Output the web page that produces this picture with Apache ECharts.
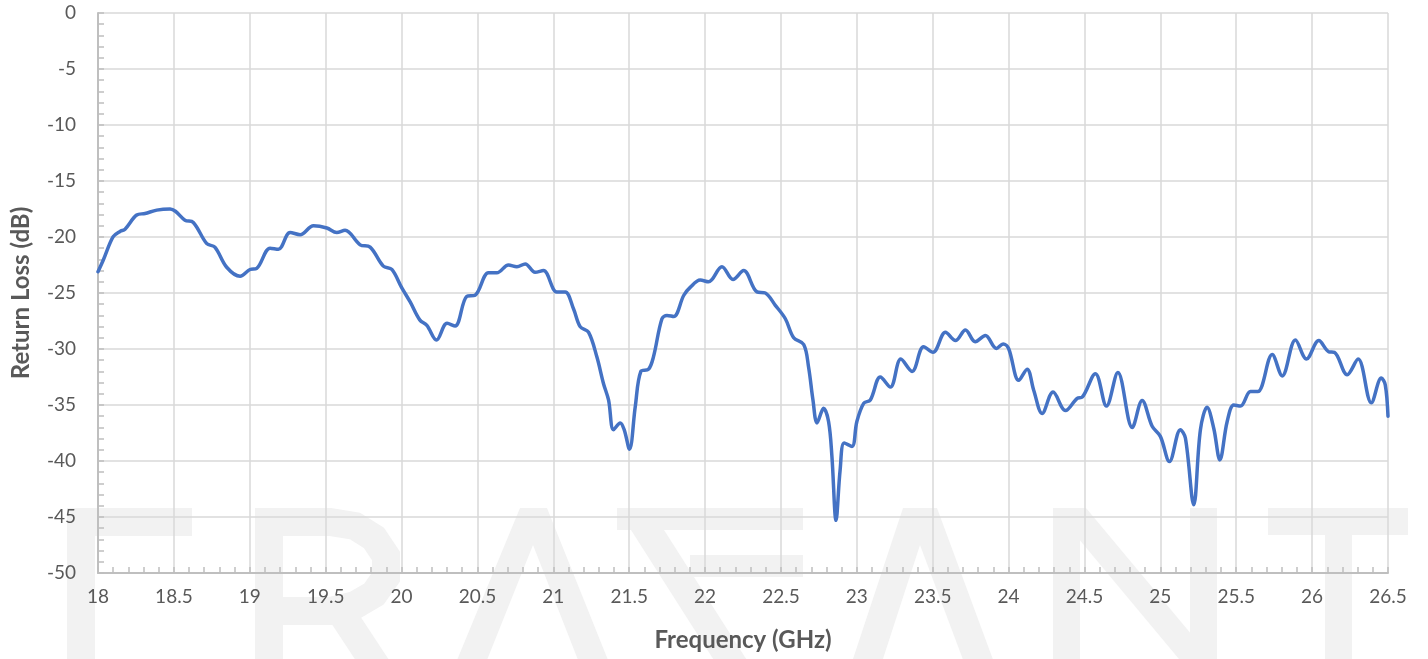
<!DOCTYPE html>
<html>
<head>
<meta charset="utf-8">
<script src="https://cdn.jsdelivr.net/npm/echarts@6/dist/echarts.min.js"></script>
<style>
html,body{margin:0;padding:0;background:#fff;}
#chart{width:1428px;height:659px;}
</style>
</head>
<body>
<div id="chart"></div>
<script>
const freqs = [
18.0,18.035,18.10,18.145,18.178,18.255,18.31,18.387,18.475,18.51,18.573,18.628,18.717,18.77,18.848,18.936,
19.002,19.046,19.134,19.189,19.266,19.332,19.42,19.508,19.573,19.628,19.727,19.793,19.88,19.936,
20.0,20.057,20.12,20.167,20.23,20.30,20.353,20.43,20.485,20.573,20.628,20.705,20.76,20.815,20.88,20.935,
21.023,21.078,21.133,21.177,21.232,21.287,21.331,21.364,21.397,21.441,21.467,21.502,21.54,21.577,21.628,21.66,21.716,21.749,21.793,21.86,21.902,21.968,
22.023,22.111,22.184,22.254,22.342,22.397,22.463,22.529,22.584,22.65,22.682,22.711,22.738,22.781,22.814,22.836,22.863,22.89,22.917,22.968,
23.0,23.045,23.089,23.155,23.221,23.29,23.364,23.44,23.502,23.584,23.65,23.716,23.78,23.847,23.92,23.964,
24.0,24.067,24.122,24.166,24.221,24.293,24.375,24.452,24.485,24.572,24.645,24.72,24.815,24.88,24.946,
25.0,25.06,25.132,25.165,25.22,25.264,25.308,25.352,25.392,25.44,25.484,25.528,25.594,25.642,25.737,25.803,25.89,25.963,
26.044,26.11,26.147,26.231,26.303,26.39,26.456,26.482,26.5
];
const returnLoss = [
-23.1,-22.05,-19.97,-19.5,-19.3,-18.04,-17.9,-17.6,-17.5,-17.7,-18.5,-18.7,-20.6,-20.9,-22.7,-23.5,
-22.9,-22.8,-21.0,-21.1,-19.6,-19.8,-19.0,-19.2,-19.6,-19.4,-20.7,-20.9,-22.6,-22.9,
-24.5,-25.8,-27.4,-27.9,-29.2,-27.7,-27.95,-25.3,-25.2,-23.2,-23.2,-22.5,-22.65,-22.4,-23.15,-23.0,
-24.9,-24.9,-26.4,-28.0,-28.5,-30.7,-33.1,-34.55,-37.2,-36.6,-37.2,-38.95,-35.15,-32.0,-31.8,-30.7,-27.3,-27.0,-27.1,-25.2,-24.5,-23.85,
-24.0,-22.65,-23.8,-23.0,-24.9,-25.0,-26.1,-27.3,-29.0,-29.6,-31.6,-34.55,-36.6,-35.3,-36.5,-39.6,-45.3,-40.8,-38.4,-38.7,
-36.5,-34.85,-34.55,-32.5,-33.4,-30.9,-32.0,-29.8,-30.3,-28.5,-29.25,-28.3,-29.35,-28.8,-29.95,-29.55,
-29.95,-32.8,-31.8,-33.7,-35.75,-33.85,-35.5,-34.4,-34.3,-32.2,-35.1,-32.1,-37.0,-34.6,-36.9,
-37.8,-40.05,-37.2,-37.95,-43.9,-37.2,-35.2,-37.1,-39.9,-36.5,-35.0,-35.1,-33.8,-33.8,-30.5,-32.4,-29.2,-30.9,
-29.25,-30.25,-30.3,-32.3,-30.9,-34.8,-32.6,-33.2,-36.0
];
const xTitle = 'Frequency (GHz)';
const yTitle = 'Return Loss (dB)';

const wm = '#f2f2f2';
function poly(points){ return {type:'polygon', z:-10, silent:true, shape:{points:points}, style:{fill:wm}}; }
function pline(points){ return {type:'polyline', z:-10, silent:true, shape:{points:points}, style:{stroke:wm, lineWidth:28, fill:null, lineJoin:'miter', lineCap:'butt'}}; }
const watermark = [
  // E
  pline([[192,522],[81,522],[81,700]]),
  // R
  {type:'rect', z:-10, silent:true, shape:{x:255,y:508,width:28,height:200}, style:{fill:wm}},
  pline([[283,522],[330,522],[355,526],[374,538],[386,556],[386,577],[374,594],[355,605],[330,611],[283,611]]),
  pline([[338,608],[392,690]]),
  // A (no bar)
  poly([[455,665],[520,508],[547,508],[610,665],[580,665],[533,545],[485,665]]),
  // V stylised
  {type:'rect', z:-10, silent:true, shape:{x:617,y:508,width:186,height:22}, style:{fill:wm}},
  poly([[617,508],[650,508],[750,665],[717,665]]),
  {type:'rect', z:-10, silent:true, shape:{x:690,y:555,width:113,height:22}, style:{fill:wm}},
  // A
  poly([[851,665],[903,508],[937,508],[995,665],[965,665],[920,545],[881,665]]),
  // N
  {type:'rect', z:-10, silent:true, shape:{x:1053,y:508,width:27,height:200}, style:{fill:wm}},
  {type:'rect', z:-10, silent:true, shape:{x:1190,y:508,width:27,height:200}, style:{fill:wm}},
  poly([[1053,508],[1086,508],[1217,665],[1184,665]]),
  // T
  {type:'rect', z:-10, silent:true, shape:{x:1268,y:508,width:140,height:27}, style:{fill:wm}},
  {type:'rect', z:-10, silent:true, shape:{x:1325,y:508,width:27,height:200}, style:{fill:wm}}
];

const chart = echarts.init(document.getElementById('chart'), null, {renderer:'canvas'});
const fontFam = 'Lato, "Open Sans", sans-serif';
chart.setOption({
  animation:false,
  backgroundColor:'#ffffff',
  graphic: watermark,
  grid:{left:98, right:40, top:13, bottom:86, containLabel:false},
  xAxis:{
    type:'value', min:18, max:26.5, interval:0.5,
    name:xTitle, nameLocation:'middle', nameGap:55,
    nameTextStyle:{fontFamily:fontFam, fontWeight:'bold', fontSize:24, color:'#595959'},
    axisLine:{show:true, onZero:false, lineStyle:{color:'#bfbfbf', width:2}},
    axisTick:{show:true, inside:true, length:6, lineStyle:{color:'#bfbfbf', width:1.5}},
    minorTick:{show:true, splitNumber:5, length:6, lineStyle:{color:'#bfbfbf', width:1.5}},
    splitLine:{show:true, lineStyle:{color:'#d9d9d9', width:1.5}},
    axisLabel:{fontFamily:fontFam, fontSize:19, color:'#595959', margin:14}
  },
  yAxis:{
    type:'value', min:-50, max:0, interval:5,
    name:yTitle, nameLocation:'middle', nameGap:65,
    nameTextStyle:{fontFamily:fontFam, fontWeight:'bold', fontSize:24, color:'#595959'},
    axisLine:{show:true, onZero:false, lineStyle:{color:'#bfbfbf', width:2}},
    axisTick:{show:true, inside:true, length:6, lineStyle:{color:'#bfbfbf', width:1.5}},
    minorTick:{show:true, splitNumber:5, length:6, lineStyle:{color:'#bfbfbf', width:1.5}},
    splitLine:{show:true, lineStyle:{color:'#d9d9d9', width:1.5}},
    axisLabel:{fontFamily:fontFam, fontSize:19, color:'#595959', margin:22}
  },
  series:[{
    type:'line',
    data: freqs.map((f,i)=>[f, returnLoss[i]]),
    showSymbol:false, symbol:'none',
    smooth:0.35,
    lineStyle:{color:'#4472c4', width:3.5, cap:'round', join:'round'},
    z:5
  }]
});
</script>
</body>
</html>
